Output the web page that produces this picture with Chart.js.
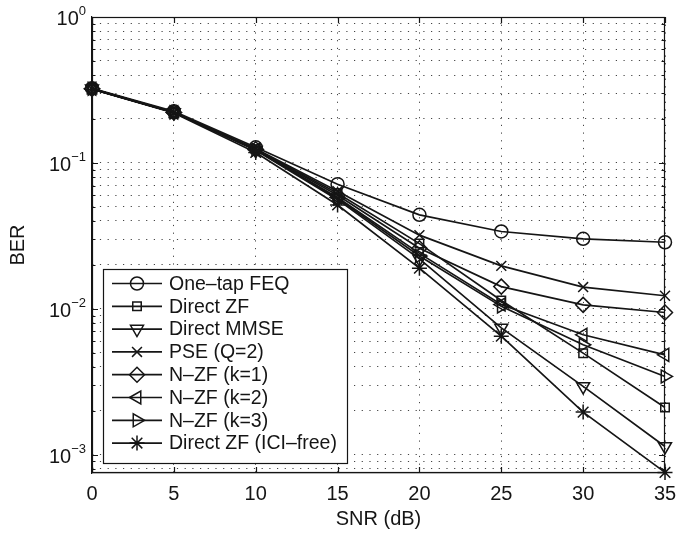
<!DOCTYPE html>
<html>
<head>
<meta charset="utf-8">
<script src="https://cdn.jsdelivr.net/npm/chart.js@4/dist/chart.umd.min.js"></script>
<style>
  html, body { margin: 0; padding: 0; background: #fff; }
  #wrap { width: 691px; height: 535px; }
</style>
</head>
<body>
<div id="wrap"><canvas id="berChart" width="691" height="535"></canvas></div>
<script>
// SNR points (dB)
const snr = [0, 5, 10, 15, 20, 25, 30, 35];

// BER curves per receiver
const berOneTap   = [0.325, 0.226, 0.128, 0.0715, 0.0441, 0.0339, 0.0302, 0.0286];
const berDirectZF = [0.322, 0.222, 0.124, 0.062, 0.028, 0.0114, 0.00497, 0.00211];
const berMMSE     = [0.322, 0.222, 0.122, 0.056, 0.022, 0.0074, 0.00294, 0.00114];
const berPSE      = [0.322, 0.223, 0.125, 0.064, 0.032, 0.0197, 0.0141, 0.0123];
const berNZF1     = [0.322, 0.222, 0.124, 0.060, 0.026, 0.0142, 0.01065, 0.00944];
const berNZF2     = [0.322, 0.222, 0.123, 0.058, 0.024, 0.0107, 0.00664, 0.00484];
const berNZF3     = [0.322, 0.222, 0.123, 0.057, 0.023, 0.0104, 0.00567, 0.00344];
const berICIFree  = [0.320, 0.220, 0.118, 0.0515, 0.019, 0.0065, 0.00196, 0.000757];

const seriesLabels = ['One\u2013tap FEQ', 'Direct ZF', 'Direct MMSE', 'PSE (Q=2)',
                      'N\u2013ZF (k=1)', 'N\u2013ZF (k=2)', 'N\u2013ZF (k=3)', 'Direct ZF (ICI\u2013free)'];

// x ticks every 5 dB; y decades shown as powers of ten
const xTicks = [0, 5, 10, 15, 20, 25, 30, 35];
const yDecades = [0, -1, -2, -3];

const FONT = 'Liberation Sans, Arial, Helvetica, sans-serif';
const INK = '#151515';

// marker look per series
const markers = [
    { style: 'circle', rot: 0, r: 6.5 },
    { style: 'rect', rot: 0, r: 6 },
    { style: 'triangle', rot: 180, r: 7.5 },
    { style: 'crossRot', rot: 0, r: 7 },
    { style: 'rectRot', rot: 0, r: 7.5 },
    { style: 'triangle', rot: 270, r: 7.5 },
    { style: 'triangle', rot: 90, r: 7.5 },
    { style: 'star', rot: 0, r: 7.5 }
];
const allSeries = [berOneTap, berDirectZF, berMMSE, berPSE, berNZF1, berNZF2, berNZF3, berICIFree];

// every minor/major tick of the log axis between min and max
const yMin = 7.5e-4, yMax = 1;
function logTickValues() {
    const vals = [];
    for (let e = -4; e <= 0; e++) {
        for (let m = 1; m <= 9; m++) {
            const v = m * Math.pow(10, e);
            if (v >= yMin * 0.999 && v <= yMax * 1.001) vals.push(v);
        }
    }
    return vals;
}

const datasets = allSeries.map((vals, i) => ({
    label: seriesLabels[i],
    data: snr.map((x, j) => ({ x: x, y: vals[j] })),
    borderColor: INK,
    borderWidth: 1.7,
    pointStyle: markers[i].style,
    pointRotation: markers[i].rot,
    pointRadius: markers[i].r,
    pointBorderColor: INK,
    pointBackgroundColor: 'rgba(0,0,0,0)',
    pointBorderWidth: 1.5,
    clip: false,
    tension: 0
}));

// box, inward ticks, power-of-ten labels and the legend
const matlabAxes = {
    id: 'matlabAxes',
    afterDraw(chart) {
        const ctx = chart.ctx;
        const a = chart.chartArea;
        const xs = chart.scales.x, ys = chart.scales.y;
        ctx.save();
        ctx.strokeStyle = INK;
        ctx.lineWidth = 1.2;

        // frame
        ctx.strokeRect(a.left + 0.5, a.top + 0.5, a.right - a.left - 1, a.bottom - a.top - 1);

        // x ticks top and bottom
        ctx.beginPath();
        xTicks.forEach(v => {
            const px = Math.round(xs.getPixelForValue(v)) + 0.5;
            ctx.moveTo(px, a.bottom); ctx.lineTo(px, a.bottom - 6);
            ctx.moveTo(px, a.top); ctx.lineTo(px, a.top + 6);
        });
        // y ticks left and right
        logTickValues().forEach(v => {
            const py = Math.round(ys.getPixelForValue(v)) + 0.5;
            const major = Math.abs(Math.log10(v) - Math.round(Math.log10(v))) < 1e-9;
            const len = major ? 6 : 3.5;
            ctx.moveTo(a.left, py); ctx.lineTo(a.left + len, py);
            ctx.moveTo(a.right, py); ctx.lineTo(a.right - len, py);
        });
        ctx.stroke();

        // y labels as 10 with superscript exponent
        ctx.fillStyle = INK;
        ctx.textBaseline = 'alphabetic';
        yDecades.forEach(e => {
            const py = ys.getPixelForValue(Math.pow(10, e));
            const sup = e < 0 ? '\u2212' + Math.abs(e) : String(e);
            ctx.font = '13px ' + FONT;
            const supW = ctx.measureText(sup).width;
            ctx.font = '20px ' + FONT;
            const baseW = ctx.measureText('10').width;
            const right = a.left - 6;
            ctx.textAlign = 'left';
            ctx.fillText('10', right - supW - baseW, py + 8);
            ctx.font = '13px ' + FONT;
            ctx.fillText(sup, right - supW, py - 2);
        });

        // legend
        const lg = { left: 103, top: 269, right: 347, bottom: 463 };
        ctx.fillStyle = '#fff';
        ctx.fillRect(lg.left, lg.top, lg.right - lg.left, lg.bottom - lg.top);
        ctx.lineWidth = 1.2;
        ctx.strokeRect(lg.left + 0.5, lg.top + 0.5, lg.right - lg.left, lg.bottom - lg.top);
        const rowH = 22.8;
        chart.data.datasets.forEach((ds, i) => {
            const cy = 283.5 + i * rowH;
            ctx.strokeStyle = INK;
            ctx.lineWidth = 1.7;
            ctx.beginPath();
            ctx.moveTo(112, cy); ctx.lineTo(162, cy);
            ctx.stroke();
            ctx.fillStyle = 'rgba(0,0,0,0)';
            ctx.lineWidth = 1.5;
            Chart.helpers.drawPoint(ctx, {
                pointStyle: ds.pointStyle,
                rotation: ds.pointRotation,
                radius: ds.pointRadius,
                borderWidth: 1.5
            }, 137, cy);
            ctx.fillStyle = INK;
            ctx.font = '19.5px ' + FONT;
            ctx.textAlign = 'left';
            ctx.textBaseline = 'middle';
            ctx.fillText(ds.label, 169, cy + 1);
        });
        ctx.restore();
    }
};

new Chart(document.getElementById('berChart'), {
    type: 'line',
    data: { datasets: datasets },
    plugins: [matlabAxes],
    options: {
        responsive: false,
        animation: false,
        devicePixelRatio: 1,
        layout: { padding: { top: 17, right: 26, left: 0, bottom: 0 } },
        plugins: { legend: { display: false }, tooltip: { enabled: false } },
        scales: {
            x: {
                type: 'linear',
                min: 0,
                max: 35,
                afterBuildTicks: scale => { scale.ticks = xTicks.map(v => ({ value: v })); },
                afterFit: scale => { scale.height = 62; },
                ticks: { color: INK, font: { family: FONT, size: 20 }, padding: 9, autoSkip: false, maxRotation: 0 },
                grid: { color: '#444', lineWidth: 1, drawTicks: false },
                border: { display: true, color: INK, width: 1.2, dash: [1.2, 6.5] },
                title: { display: true, text: 'SNR (dB)', color: INK, font: { family: FONT, size: 20 }, padding: { top: 0, bottom: 4 } }
            },
            y: {
                type: 'logarithmic',
                min: yMin,
                max: yMax,
                afterBuildTicks: scale => { scale.ticks = logTickValues().map(v => ({ value: v })); },
                afterFit: scale => { scale.width = 92; },
                ticks: { callback: () => '', autoSkip: false },
                grid: { color: '#444', lineWidth: 1, drawTicks: false },
                border: { display: true, color: INK, width: 1.2, dash: [1.2, 6.5] },
                title: { display: true, text: 'BER', color: INK, font: { family: FONT, size: 20 }, padding: { top: 6, bottom: 0 } }
            }
        }
    }
});
</script>
</body>
</html>
